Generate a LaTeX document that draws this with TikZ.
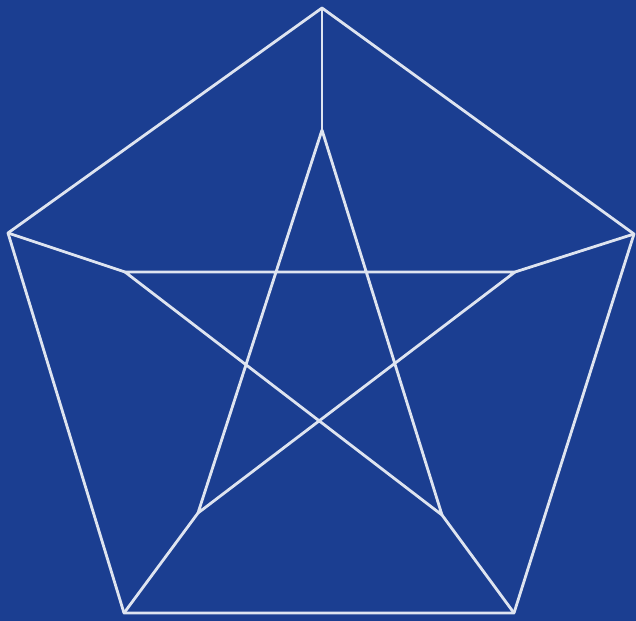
\documentclass[tikz,border=0pt]{standalone}
\usepackage{tikz}
\usetikzlibrary{calc}
\definecolor{bgblue}{RGB}{27,62,145}
\definecolor{edgewhite}{RGB}{222,228,240}
\begin{document}
\begin{tikzpicture}[x = 0.02cm, y = -0.02cm]

\tikzstyle{edge_g}=[line width = 1.6pt, color = edgewhite, line cap = round, line join = round]

\fill[bgblue] (0, 0) rectangle (636, 621);
\useasboundingbox (0, 0) rectangle (636, 621);

% outer pentagon
\coordinate (o1) at (322, 8);
\coordinate (o2) at (634, 234);
\coordinate (o3) at (514, 613);
\coordinate (o4) at (124, 613);
\coordinate (o5) at (8, 233);
% inner star
\coordinate (i1) at (322, 130);
\coordinate (i2) at (515, 272);
\coordinate (i3) at (442, 515);
\coordinate (i4) at (198, 513);
\coordinate (i5) at (125, 272);

% outer cycle
\draw[edge_g] (o1) -- (o2) -- (o3) -- (o4) -- (o5) -- cycle;

% spokes
\draw[edge_g] (o1) -- (i1);
\draw[edge_g] (o2) -- (i2);
\draw[edge_g] (o3) -- (i3);
\draw[edge_g] (o4) -- (i4);
\draw[edge_g] (o5) -- (i5);

% star
\draw[edge_g] (i1) -- (i3) -- (i5) -- (i2) -- (i4) -- cycle;

\end{tikzpicture}
\end{document}
